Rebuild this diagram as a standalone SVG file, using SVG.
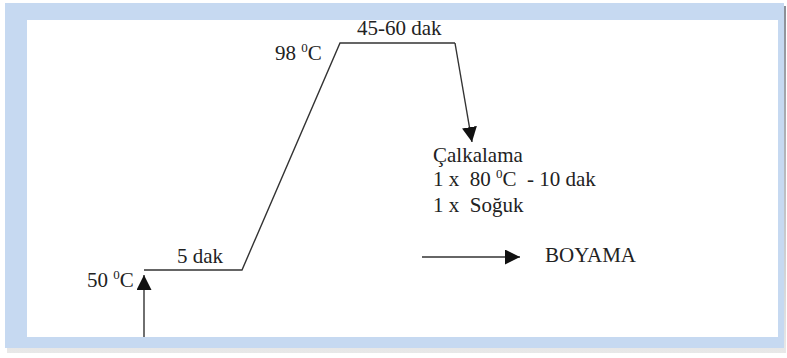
<svg xmlns="http://www.w3.org/2000/svg" width="787" height="358" viewBox="0 0 787 358">
<defs>
<style>
.t{font-family:"Liberation Serif","Times New Roman",serif;font-size:21px;fill:#222}
.s{font-size:13px}
.ln{stroke:#333;stroke-width:1.4;fill:none}
</style>
<marker id="ah" viewBox="0 0 10 10" refX="10" refY="5" markerWidth="15" markerHeight="15" markerUnits="userSpaceOnUse" orient="auto">
<path d="M0,0 L10,5 L0,10 z" fill="#111"/>
</marker>
<linearGradient id="sh" x1="0" y1="0" x2="0" y2="1">
<stop offset="0" stop-color="#8a8f96"/>
<stop offset="1" stop-color="#e8e8e8"/>
</linearGradient>
</defs>
<rect x="0" y="0" width="787" height="358" fill="#fff"/>
<g id="frame">
<rect x="7" y="6" width="779" height="347" fill="url(#sh)"/>
<rect x="5" y="3" width="779" height="345" fill="#c6d9f1"/>
<rect x="27" y="20" width="751" height="317" fill="#fff"/>
</g>
<g id="connectors">
<line class="ln" x1="144" y1="337" x2="144" y2="275" marker-end="url(#ah)"/>
<polyline class="ln" points="144,270 242,270 340,43 455,43"/>
<line class="ln" x1="455" y1="43" x2="472" y2="142" marker-end="url(#ah)"/>
<line class="ln" x1="422" y1="257" x2="520" y2="257" marker-end="url(#ah)"/>
</g>
<g id="n50">
<text class="t" x="87" y="287">50 <tspan class="s" dy="-8">0</tspan><tspan dy="8">C</tspan></text>
</g>
<g id="n5dak">
<text class="t" x="177" y="263">5 dak</text>
</g>
<g id="n98">
<text class="t" x="275" y="60">98 <tspan class="s" dy="-8">0</tspan><tspan dy="8">C</tspan></text>
</g>
<g id="n4560">
<text class="t" x="357" y="35">45-60 dak</text>
</g>
<g id="ncalk">
<text class="t" x="433" y="162">Çalkalama</text>
<text class="t" x="433" y="186" xml:space="preserve">1 x  80 <tspan class="s" dy="-8">0</tspan><tspan dy="8">C  - 10 dak</tspan></text>
<text class="t" x="433" y="212" xml:space="preserve">1 x  Soğuk</text>
</g>
<g id="nboyama">
<text class="t" x="545" y="262">BOYAMA</text>
</g>
</svg>
